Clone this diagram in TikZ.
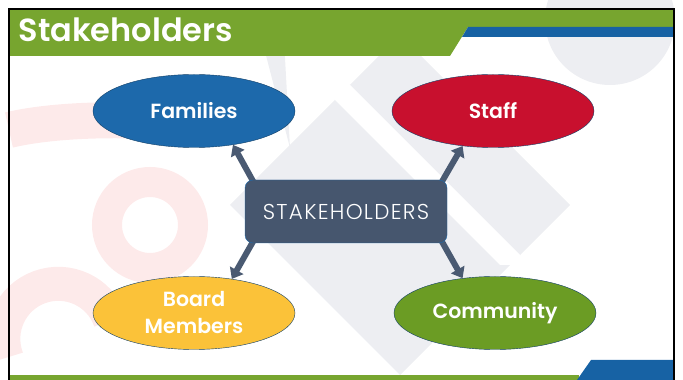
\documentclass[tikz,border=0pt]{standalone}
\usepackage{fontspec}
\setmainfont{Poppins}[BoldFont={Poppins SemiBold}]
\newfontfamily\lightfont{Poppins Light}[LetterSpace=6]
\usetikzlibrary{positioning, arrows.meta, shapes.geometric, backgrounds}

\definecolor{hdrgreen}{HTML}{77A52F}
\definecolor{hdrblue}{HTML}{1762A4}
\definecolor{famblue}{HTML}{1D69AB}
\definecolor{staffred}{HTML}{C8102E}
\definecolor{boardyellow}{HTML}{FBC239}
\definecolor{commgreen}{HTML}{6B9C24}
\definecolor{hubslate}{HTML}{46566E}
\definecolor{arrowslate}{HTML}{4A5A72}
\definecolor{wmgray}{HTML}{EDEEF2}
\definecolor{wmpink}{HTML}{FDEAEA}

\begin{document}
\begin{tikzpicture}[x=1pt, y=1pt,
    groupnode/.style={ellipse, draw=famblue!60!black, thin, minimum width=202pt, minimum height=73pt, text=white, font=\bfseries\fontsize{20.5}{27}\selectfont, align=center},
    hubnode/.style={rectangle, rounded corners=8pt, draw=famblue, fill=hubslate, minimum width=202pt, minimum height=63pt, text=white, font=\lightfont\fontsize{21.5}{24}\selectfont},
    linkarrow/.style={line width=6pt, draw=arrowslate, -{Triangle[width=15pt,length=10pt]}},
]
\useasboundingbox (0,0) rectangle (683,380);

% header and footer bands
\fill[hdrgreen] (9,353) rectangle (673,370);
\fill[hdrgreen] (9,353) -- (468,353) -- (450,324) -- (9,324) -- cycle;
\fill[hdrblue] (468,353) -- (673,353) -- (673,343) -- (462,343) -- cycle;
\fill[hdrgreen] (9,0) rectangle (579,5);
\fill[hdrblue] (577,0) -- (591,20) -- (673,20) -- (673,0) -- cycle;
\draw[line width=1.5pt] (9,0) -- (9,371) -- (674,371) -- (674,0);
\node[anchor=base west, text=white, font=\bfseries\fontsize{32}{36}\selectfont] (title) at (15,338) {Stakeholders};

% the five nodes
\node[hubnode] (hub) at (346,168.5) {STAKEHOLDERS};
\node[groupnode, fill=famblue] (fam) at (194,269) {Families};
\node[groupnode, fill=staffred] (staff) at (493,269) {Staff};
\node[groupnode, fill=boardyellow] (board) at (194,67) {Board\\Members};
\node[groupnode, fill=commgreen] (comm) at (495,67) {Community};

\begin{scope}[on background layer]
% faint watermark
\fill[wmgray] (400,345) -- (570,175) -- (400,5) -- (230,175) -- cycle;
\fill[white] (300,315) -- (330,315) -- (530,115) -- (500,115) -- cycle;
\fill[wmgray] (262,340) -- (284,340) -- (290,232) -- cycle;
\fill[wmgray] (610,360) circle (65);
\draw[wmpink, line width=30pt] (150,155) circle (43);
\draw[wmpink, line width=34pt] (110,60) arc (20:200:55);
\draw[wmpink, line width=36pt] (9,250) .. controls (60,262) and (140,262) .. (200,255);
% connectors
\draw[linkarrow] ([xshift=13pt,yshift=-10pt]hub.north west) -- (fam.-41);
\draw[linkarrow] ([xshift=-10pt,yshift=-10pt]hub.north east) -- (staff.-131);
\draw[linkarrow] ([xshift=13pt,yshift=10pt]hub.south west) -- (board.42);
\draw[linkarrow] ([xshift=-10pt,yshift=10pt]hub.south east) -- (comm.133);
\end{scope}
\end{tikzpicture}
\end{document}
